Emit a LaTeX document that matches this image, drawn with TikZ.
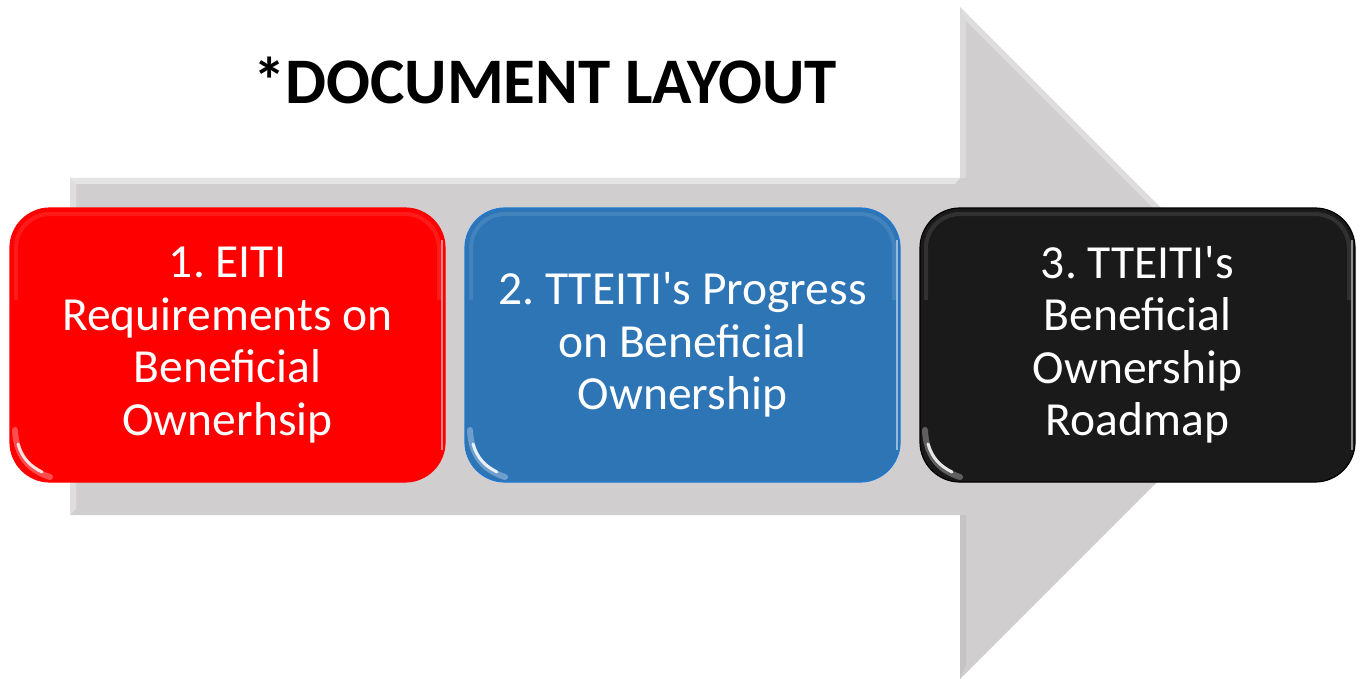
\documentclass[tikz,border=0pt]{standalone}
\usepackage{fontspec}
\setmainfont{Carlito}[Ligatures=TeXOff]
\frenchspacing
\definecolor{arrowgrey}{HTML}{D0CECE}
\definecolor{boxred}{HTML}{FF0000}
\definecolor{boxblue}{HTML}{2E75B6}
\definecolor{boxblueedge}{HTML}{1F78D1}
\definecolor{boxblack}{HTML}{1A1A1A}
\tikzset{
  stagebox/.style={minimum width=435pt, minimum height=274pt, rounded corners=40pt, line width=1.2pt, inner sep=0pt},
  stagetext/.style={text=white, align=center, font=\fontsize{47.5}{52.5}\selectfont},
  gleam/.style={white, line cap=round},
}
\begin{document}
\begin{tikzpicture}[x=1pt,y=-1pt]
\useasboundingbox (0,0) rectangle (1364,679);
\begin{scope}
\clip (0,0) rectangle (1364,679);
% big grey arrow
\fill[arrowgrey] (70,178) -- (960,178) -- (960,7) -- (1296,343) -- (960,679) -- (960,515) -- (70,515) -- cycle;
% bevel highlights
\fill[white,opacity=0.45] (70,178) -- (960,178) -- (955,184) -- (76,184) -- cycle;
\fill[white,opacity=0.35] (70,178) -- (76,184) -- (76,509) -- (70,515) -- cycle;
\fill[white,opacity=0.3] (960,7) -- (1296,343) -- (1288,343) -- (966,21) -- cycle;
\fill[white,opacity=0.25] (960,7) -- (966,21) -- (966,178) -- (960,178) -- cycle;
\fill[black,opacity=0.05] (960,515) -- (966,515) -- (966,665) -- (960,679) -- cycle;
\end{scope}
% title
\node[anchor=base, font=\fontsize{65}{70}\bfseries\selectfont] (title) at (545,104) {*DOCUMENT LAYOUT};
% boxes
\node[stagebox, fill=boxred, draw=boxred] (b1) at (227.5,345) {};
\node[stagebox, fill=boxblue, draw=boxblueedge] (b2) at (682.5,345) {};
\node[stagebox, fill=boxblack, draw=black] (b3) at (1137.5,345) {};
% gloss
\foreach \b/\x in {b1/10,b2/465,b3/920}{
  \draw[white, opacity=0.1, line width=4pt, rounded corners=34pt] (\x+6,300) -- (\x+6,214) -- (\x+429,214) -- (\x+429,300);
  \draw[gleam, opacity=0.3, line width=6pt] (\x+5,430) .. controls (\x+6,455) and (\x+18,470) .. (\x+40,477);
  \draw[gleam, opacity=0.85, line width=3pt] (\x+8,444) .. controls (\x+12,458) and (\x+20,466) .. (\x+32,472);
  \draw[white, opacity=0.5, line width=1.2pt] (\x+432,240) -- (\x+432,450);
}
% texts
\node[stagetext] (t1) at (b1) {1. EITI\\Requirements on\\Beneficial\\Ownerhsip};
\node[stagetext] (t2) at (b2) {2. TTEITI's Progress\\on Beneficial\\Ownership};
\node[stagetext] (t3) at (b3) {3. TTEITI's\\Beneficial\\Ownership\\Roadmap};
\end{tikzpicture}
\end{document}
